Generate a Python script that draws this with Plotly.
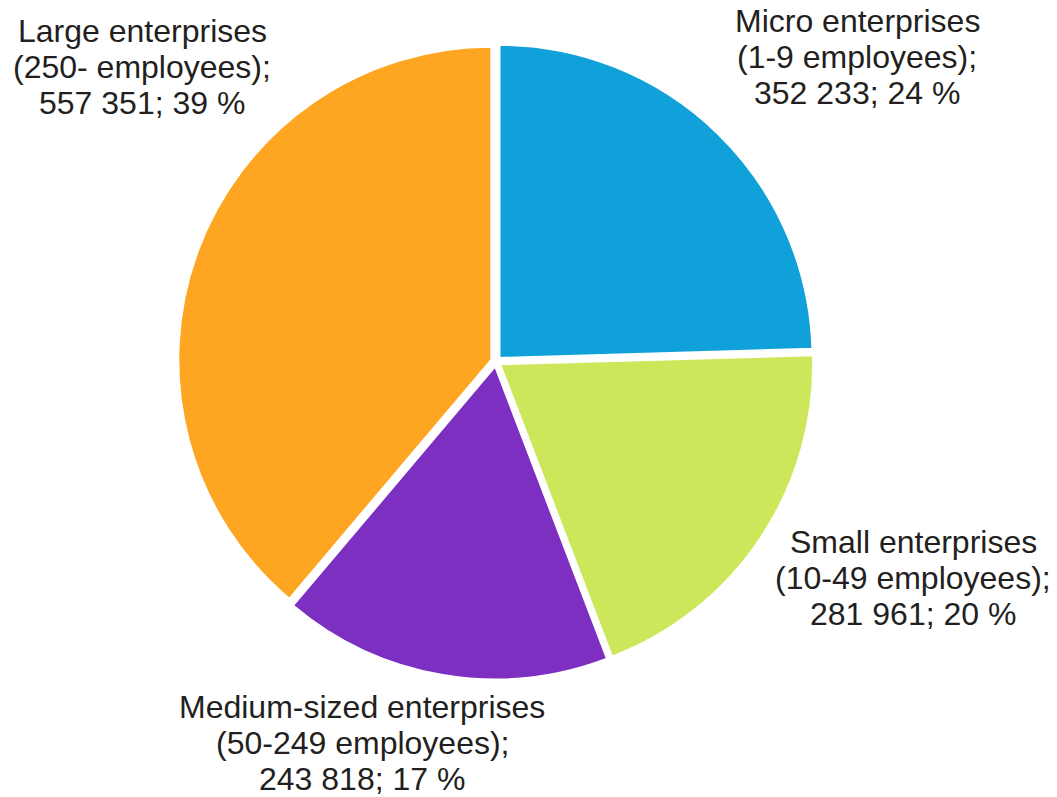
import plotly.graph_objects as go

names = ["Micro enterprises", "Small enterprises", "Medium-sized enterprises", "Large enterprises"]
groups = ["(1-9 employees);", "(10-49 employees);", "(50-249 employees);", "(250- employees);"]
values = [352233, 281961, 243818, 557351]
percents = [24, 20, 17, 39]
colors = ["#10A0DA", "#CDE75A", "#7C2FC1", "#FEA521"]

W, H = 1057, 797
FS = 32
LINE = 36
# label anchor: centre x, first-line centre y (pixels from top)
label_pos = [(857, 21), (913, 542), (362, 707), (142, 31)]

fig = go.Figure(go.Pie(
    labels=names,
    values=values,
    marker=dict(colors=colors, line=dict(color="white", width=2)),
    sort=False,
    direction="clockwise",
    rotation=0,
    pull=[0.016] * 4,
    textinfo="none",
    hoverinfo="label+value+percent",
    showlegend=False,
    domain=dict(x=[178 / W, 814 / W], y=[117.5 / H, 753.5 / H]),
))

def fmt(v):
    return f"{v:,}".replace(",", " ")

ann = []
for i, (n, g, v, p) in enumerate(zip(names, groups, values, percents)):
    lines = [n, g, f"{fmt(v)}; {p} %"]
    cx, cy = label_pos[i]
    for k, t in enumerate(lines):
        mid = cy + k * LINE
        ann.append(dict(
            text=t, x=cx / W, y=1 - mid / H, xref="paper", yref="paper",
            xanchor="center", yanchor="middle", showarrow=False,
            font=dict(family="Liberation Sans, Arial, sans-serif", size=FS, color="#231F20"),
        ))

fig.update_layout(
    width=W, height=H,
    margin=dict(l=0, r=0, t=0, b=0),
    paper_bgcolor="white", plot_bgcolor="white",
    annotations=ann,
)

fig.write_html(
    "out.html",
    config={"displayModeBar": False},
    post_script="document.body.style.margin='0';document.body.style.overflow='hidden';",
)
